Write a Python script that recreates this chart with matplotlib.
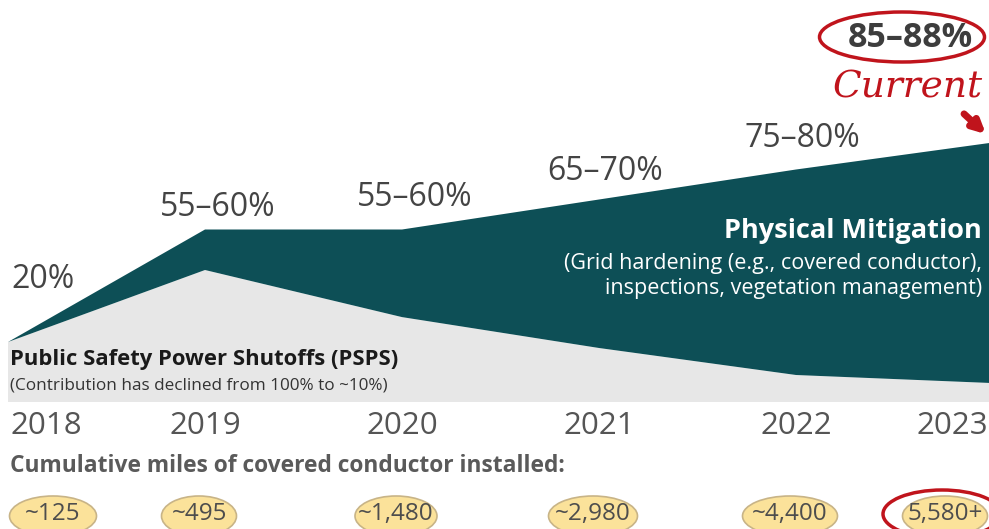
import matplotlib.pyplot as plt
from matplotlib.patches import Ellipse

# wildfire risk reduction by source, 2018-2023
years = [2018, 2019, 2020, 2021, 2022, 2023]
total_low = [20, 55, 55, 65, 75, 85]
total_high = [20, 60, 60, 70, 80, 88]
psps_share = [20, 44, 28.3, 18, 9, 6.3]
reduction_labels = ['20%', '55–60%', '55–60%', '65–70%', '75–80%', '85–88%']
miles_labels = ['~125', '~495', '~1,480', '~2,980', '~4,400', '5,580+']

total = [(lo + hi) / 2 for lo, hi in zip(total_low, total_high)]
physical = [t - p for t, p in zip(total, psps_share)]

TEAL = '#0d4f56'
GRAY = '#e7e7e7'
RED = '#c0141c'
TXT = '#444444'

plt.rcParams['font.family'] = ['Open Sans', 'DejaVu Sans']

W, H = 989, 529
fig = plt.figure(figsize=(W / 100, H / 100), dpi=100)
ax = fig.add_axes([0, 0, 1, 1])
ax.set_axis_off()

# 197 px per year, 3 px per percent, zero line at y=402 px
ax.set_xlim(2018 - 8 / 197, 2018 + (W - 8) / 197)
ax.set_ylim(-(H - 402) / 3, 402 / 3)


def fx(px):
    return px / W


def fy(py):
    return 1 - py / H


ax.stackplot(years, psps_share, physical, colors=[GRAY, TEAL], lw=0)

# reduction labels above the top edge
dx = [0, 0.065, 0.066, 0.03, 0.03, -0.42]
dy = [21, 7.2, 10.8, 9.5, 10.5, 34.8]
for i, (yr, t, lab) in enumerate(zip(years, total, reduction_labels)):
    if i == 0:
        ax.text(2018 + 3 / 197, t + dy[i], lab, ha='left', va='center',
                fontsize=23, color=TXT)
    elif i == len(years) - 1:
        ax.text(yr + dx[i], t + dy[i], lab, ha='center', va='center',
                fontsize=24.5, color='#3d3d3d', fontweight='bold')
    else:
        ax.text(yr + dx[i], t + dy[i], lab, ha='center', va='center',
                fontsize=23, color=TXT)

# highlight on the current value
fig.patches.append(Ellipse((fx(902), fy(37)), 165 / W, 50 / H, transform=fig.transFigure,
                           fill=False, ec=RED, lw=2.5))
fig.text(fx(908), fy(88), 'Current', ha='center', va='center', fontsize=27,
         color=RED, family='DejaVu Serif', style='italic')
ax.annotate('', xy=(fx(988), fy(136)), xytext=(fx(962), fy(112)),
            xycoords='figure fraction', textcoords='figure fraction',
            arrowprops=dict(arrowstyle='-|>', lw=5, color=RED, mutation_scale=18))

# area labels
fig.text(fx(982), fy(231), 'Physical Mitigation', ha='right', va='center',
         fontsize=19.5, fontweight='bold', color='white')
fig.text(fx(982), fy(276), '(Grid hardening (e.g., covered conductor),\ninspections, vegetation management)',
         ha='right', va='center', fontsize=15.5, color='white', linespacing=1.3)
fig.text(fx(10), fy(360), 'Public Safety Power Shutoffs (PSPS)', ha='left', va='center',
         fontsize=15.8, fontweight='bold', color='#1a1a1a')
fig.text(fx(10), fy(385), '(Contribution has declined from 100% to ~10%)', ha='left', va='center',
         fontsize=12.3, color='#333333')

# year axis
for i, yr in enumerate(years):
    if i == 0:
        x, ha = 2018 + 2 / 197, 'left'
    elif i == len(years) - 1:
        x, ha = 2018 + (W - 1 - 8) / 197, 'right'
    else:
        x, ha = yr, 'center'
    ax.text(x, -8, str(yr), ha=ha, va='center', fontsize=22.5, color='#555555')

fig.text(fx(10), fy(466), 'Cumulative miles of covered conductor installed:', ha='left',
         va='center', fontsize=16.4, fontweight='bold', color='#5a5a5a')

# cumulative miles badges
bx = [53, 199, 396, 593, 790, 945]
bw = [87, 75, 82, 89, 95, 85]
for px, w, lab in zip(bx, bw, miles_labels):
    fig.patches.append(Ellipse((fx(px), fy(516)), w / W, 40 / H, transform=fig.transFigure,
                               fc='#fbe29a', ec='#c8b487', lw=1.2))
    fig.text(fx(px), fy(514), lab, ha='center', va='center', fontsize=17.5, color='#4d4d4d')
fig.patches.append(Ellipse((fx(942), fy(514)), 118 / W, 48 / H, transform=fig.transFigure,
                           fill=False, ec=RED, lw=2.5))

fig.savefig('out.png', dpi=100)
